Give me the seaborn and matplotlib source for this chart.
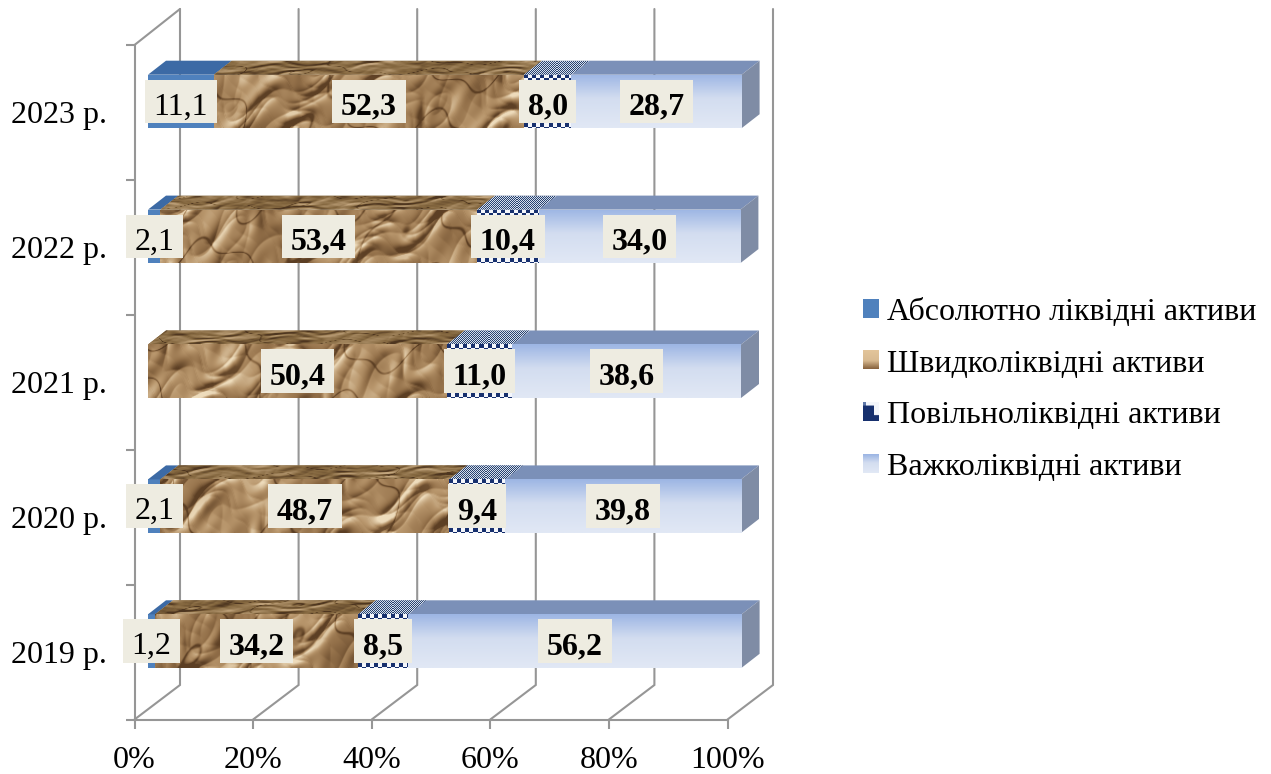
import numpy as np
import matplotlib
matplotlib.use("Agg")
import matplotlib.pyplot as plt
import seaborn as sns
from matplotlib.image import BboxImage
from matplotlib.legend_handler import HandlerBase
from matplotlib.patches import Patch, Polygon
from matplotlib.path import Path
from matplotlib.transforms import Bbox, TransformedBbox

# Asset liquidity structure by year, percent
years = ["2023 р.", "2022 р.", "2021 р.", "2020 р.", "2019 р."]
absolute = [11.1, 2.1, 0.0, 2.1, 1.2]
quick = [52.3, 53.4, 50.4, 48.7, 34.2]
slow = [8.0, 10.4, 11.0, 9.4, 8.5]
hard = [28.7, 34.0, 38.6, 39.8, 56.2]
series_names = ["Абсолютно ліквідні активи", "Швидколіквідні активи",
                "Повільноліквідні активи", "Важколіквідні активи"]
percent_ticks = [0, 20, 40, 60, 80, 100]

W, H, DPI = 1271, 774, 100
PLOT_L, PLOT_R, PLOT_T, PLOT_B = 134.5, 727.5, 45.0, 719.5
GRID = "#969696"
LABEL_BG = "#EEECE1"
FONT_SIZE = 23

sns.set_theme(style="white")
plt.rcParams["font.family"] = ["Liberation Serif", "DejaVu Serif"]

fig = plt.figure(figsize=(W / DPI, H / DPI), dpi=DPI, facecolor="white")
ax = fig.add_axes([PLOT_L / W, 1 - PLOT_B / H, (PLOT_R - PLOT_L) / W, (PLOT_B - PLOT_T) / H])
ax.set_facecolor("none")

PX_X = (PLOT_R - PLOT_L) / 100.0
PX_Y = (PLOT_B - PLOT_T) / len(years)
dx = lambda px: px / PX_X
dy = lambda px: px / PX_Y

WALL_DX, WALL_DY = dx(45.5), dy(34.5)   # box depth
WALL_TOP = -0.5 - dy(36)
BAR_DX, BAR_DY = dx(18), dy(14)         # bar depth
SHIFT_X, SHIFT_Y = dx(13.5), dy(11)     # bars sit inside the box
BAR_H = 53.5 / PX_Y


def colour(hex_code):
    return np.array(matplotlib.colors.to_rgb(hex_code))


def ramp(values, stops, colours):
    cols = np.array([colour(c) for c in colours])
    return np.dstack([np.interp(values, stops, cols[:, k]) for k in range(3)])


def crumple(w, h, seed, streak=1.0):
    """Embossed crumpled-paper relief built from warped ridges."""
    yy, xx = np.mgrid[0:h, 0:w].astype(float)
    xx = xx / 1.3 + seed * 173.0
    yy = yy * streak / 1.3 + seed * 61.0
    warp = (1.2 * np.sin(xx / 31 + yy / 17) + 0.9 * np.sin(xx / 13 - yy / 21 + 1.3)
            + 0.5 * np.sin(xx / 6.1 + yy / 8.3 + 0.4))
    field = np.zeros_like(xx)
    for fx, fy, amp, bend, phase in [(29, 17, 1.0, 1.0, 0.0), (-19, 11, 0.8, 1.2, 0.7),
                                     (13, 8, 0.6, 1.0, 2.1), (-7, 9, 0.4, 1.2, 1.2),
                                     (4.3, -5.7, 0.22, 1.0, 0.3)]:
        field += amp * np.abs(np.sin(xx / fx + yy / fy + bend * warp + phase))
    relief = np.gradient(field, axis=0) + 0.7 * np.gradient(field, axis=1)
    relief = np.clip(relief / (2.6 * relief.std()), -1, 1)
    # long dark creases running across the sheet, plus broad lighter patches
    crease = np.exp(-(np.sin(xx / 43 - yy / 26 + 0.8 * warp) / 0.07) ** 2)
    blotch = 0.2 * np.sin(xx / 19 + yy / 27 + 2.0) + 0.12 * np.sin(xx / 11 - yy / 14) - 0.08
    return np.clip(relief + blotch - 0.8 * crease, -1, 1)


def wood_front(w, h, seed):
    shade = crumple(w, h, seed)
    return ramp(shade, [-1, -0.35, 0.2, 1], ["#5C3F24", "#94714A", "#B8966C", "#EEDCBC"])


def wood_top(w, h, seed):
    shade = crumple(w, h, seed, streak=5.0)
    return ramp(shade, [-1, -0.2, 1], ["#4E3620", "#84673F", "#C2A57E"])


def checks(w, h, size, dark, light):
    yy, xx = np.mgrid[0:h, 0:w]
    mask = ((xx // size + yy // size) % 2).astype(float)
    return ramp(mask, [0, 1], [dark, light])


def blue_gradient(w, h):
    t = np.linspace(0, 1, h)[:, None] * np.ones((h, w))
    return ramp(t, [0, 0.45, 1], ["#9DB6E4", "#D3DDF0", "#E1E8F5"])


def side_gradient(w, h):
    yy, xx = np.mgrid[0:h, 0:w].astype(float)
    t = (xx / max(w - 1, 1) + yy / max(h - 1, 1)) / 2
    return ramp(t, [0, 1], ["#6C84AB", "#8F939D"])


def paint(image, clip, x0, x1, y_top, y_bottom, interpolation="nearest"):
    """Lay an image over a data-space region, clipped to a given patch."""
    art = ax.imshow(image, extent=(x0, x1, y_bottom, y_top), aspect="auto",
                    interpolation=interpolation, zorder=clip.get_zorder() + 0.1)
    art.set_clip_path(clip)
    return art


def label_backing(x0, y0, width, height, mutation_size):
    """Pale rectangle, taller above the text line because of its empty descender."""
    side, above, below = 0.27 * mutation_size, 0.40 * mutation_size, 0.056 * mutation_size
    left, right = x0 - side, x0 + width + side
    low, high = y0 - below, y0 + height + above
    return Path([(left, low), (right, low), (right, high), (left, high), (left, low)], closed=True)


# Floor, back wall and gridlines of the 3D box
for v in percent_ticks:
    ax.plot([v, v + WALL_DX, v + WALL_DX], [4.5, 4.5 - WALL_DY, WALL_TOP],
            color=GRID, lw=1.5, clip_on=False, zorder=1, solid_joinstyle="miter")
ax.plot([0, WALL_DX], [-0.5, WALL_TOP], color=GRID, lw=1.5, clip_on=False, zorder=1)

# Stacked front faces
fills = ["#4F81BD", "#B8966C", "#17306E", "#D3DDF0"]
stack = np.vstack([absolute, quick, slow, hard])
lefts = np.vstack([np.zeros(len(years)), np.cumsum(stack, axis=0)[:-1]])
for k, values in enumerate(stack):
    sns.barplot(x=values, y=years, order=years, orient="h", color=fills[k],
                saturation=1, width=BAR_H, ax=ax, zorder=3, linewidth=0)
    for row, bar in enumerate(ax.containers[-1]):
        bar.set_x(lefts[k, row] + SHIFT_X)
        bar.set_y(row - SHIFT_Y - BAR_H / 2)
        bar.set_clip_on(False)

bar_sets = ax.containers[-4:]
for k in range(4):
    for row, bar in enumerate(bar_sets[k]):
        width = stack[k, row]
        if width <= 0:
            continue
        x0 = lefts[k, row] + SHIFT_X
        x1 = x0 + width
        y0 = row - SHIFT_Y - BAR_H / 2
        y1 = y0 + BAR_H
        wpx = max(int(width * PX_X), 2)
        hpx = int(BAR_H * PX_Y)
        top_pts = [(x0, y0), (x1, y0), (x1 + BAR_DX, y0 - BAR_DY), (x0 + BAR_DX, y0 - BAR_DY)]
        top_fill = ["#3C6AA5", "#84673F", "#8090AE", "#7B90B8"][k]
        top = Polygon(top_pts, closed=True, fc=top_fill, ec="none", zorder=3, clip_on=False)
        ax.add_patch(top)
        topw = wpx + 18
        toph = 14
        if k == 1:
            paint(wood_front(wpx, hpx, row + 1), bar, x0, x1, y0, y1, "bilinear")
            paint(wood_top(topw, toph, row + 1), top, x0, x1 + BAR_DX, y0 - BAR_DY, y0, "bilinear")
        elif k == 2:
            paint(checks(wpx, hpx, 4, "#17306E", "#F4F6FB"), bar, x0, x1, y0, y1)
            paint(checks(topw, toph, 1, "#27426F", "#D6DEEC"), top, x0, x1 + BAR_DX, y0 - BAR_DY, y0)
        elif k == 3:
            paint(blue_gradient(wpx, hpx), bar, x0, x1, y0, y1, "bilinear")
            side = Polygon([(x1, y0), (x1 + BAR_DX, y0 - BAR_DY), (x1 + BAR_DX, y1 - BAR_DY), (x1, y1)],
                           closed=True, fc="#7F8CA5", ec="none", zorder=3, clip_on=False)
            ax.add_patch(side)
            paint(side_gradient(18, hpx + 14), side, x1, x1 + BAR_DX, y0 - BAR_DY, y1, "bilinear")

# Value labels on a pale backing
for k in range(4):
    for row in range(len(years)):
        value = stack[k, row]
        if value <= 0:
            continue
        ax.text(lefts[k, row] + SHIFT_X + value / 2, row - SHIFT_Y + dy(5.5),
                f"{value:.1f}".replace(".", ","), ha="center", va="center",
                fontsize=FONT_SIZE, color="black", fontweight="normal" if k == 0 else "bold",
                zorder=6, clip_on=False,
                bbox=dict(boxstyle=label_backing, fc=LABEL_BG, ec="none"))

# Axes: the spines and ticks belong to the front plane of the box
ax.set_xlim(0, 100)
ax.set_ylim(len(years) - 0.5, -0.5)
ax.set_xlabel("")
ax.set_ylabel("")
ax.set_xticks(percent_ticks)
ax.set_xticklabels([f"{v}%" for v in percent_ticks], fontsize=FONT_SIZE, color="black")
ax.set_yticks(range(len(years)))
ax.set_yticklabels(years, fontsize=FONT_SIZE, color="black")
ax.set_yticks(np.arange(-0.5, len(years)), minor=True)
ax.tick_params(axis="x", which="major", length=6.8, width=1.5, color=GRID, pad=12.5, bottom=True)
ax.tick_params(axis="y", which="major", length=0, pad=19.8, left=False)
ax.tick_params(axis="y", which="minor", length=6.8, width=1.5, color=GRID, left=True)
for name in ("top", "right"):
    ax.spines[name].set_visible(False)
for name in ("left", "bottom"):
    ax.spines[name].set_color(GRID)
    ax.spines[name].set_linewidth(1.5)
    ax.spines[name].set_visible(True)
ax.grid(False)


class SwatchHandler(HandlerBase):
    """Legend key drawn from a small image."""

    def __init__(self, image):
        super().__init__()
        self.image = image

    def create_artists(self, legend, orig_handle, xdescent, ydescent, width, height, fontsize, trans):
        box = TransformedBbox(Bbox.from_bounds(-xdescent, -ydescent, width, height), trans)
        art = BboxImage(box, interpolation="bilinear")
        art.set_data(self.image)
        return [art]


navy_key = np.ones((16, 16, 3)) * colour("#17306E")
navy_key[:3, :] = colour("#F4F6FB")
navy_key[:, 11:] = colour("#F4F6FB")
navy_key[11:, 11:] = colour("#17306E")
navy_key[:3, :3] = colour("#5F78A8")
wood_key = ramp(np.linspace(0, 1, 16)[:, None] * np.ones((16, 16)),
                [0, 0.55, 1], ["#E2C49A", "#D9BB92", "#8A6540"])
keys = [ramp(np.zeros((16, 16)), [0, 1], ["#4F81BD", "#4F81BD"]), wood_key, navy_key, blue_gradient(16, 16)]

handles = [Patch(label=name) for name in series_names]
ax.legend(handles=handles, loc="upper left", bbox_to_anchor=(863 / W, 1 - 298 / H),
          bbox_transform=fig.transFigure, frameon=False, fontsize=FONT_SIZE, borderpad=0,
          borderaxespad=0, handlelength=0.5, handleheight=0.5, handletextpad=0.25,
          labelspacing=0.71, labelcolor="black",
          handler_map={h: SwatchHandler(img) for h, img in zip(handles, keys)})

fig.savefig("out.png", dpi=DPI, facecolor="white")
